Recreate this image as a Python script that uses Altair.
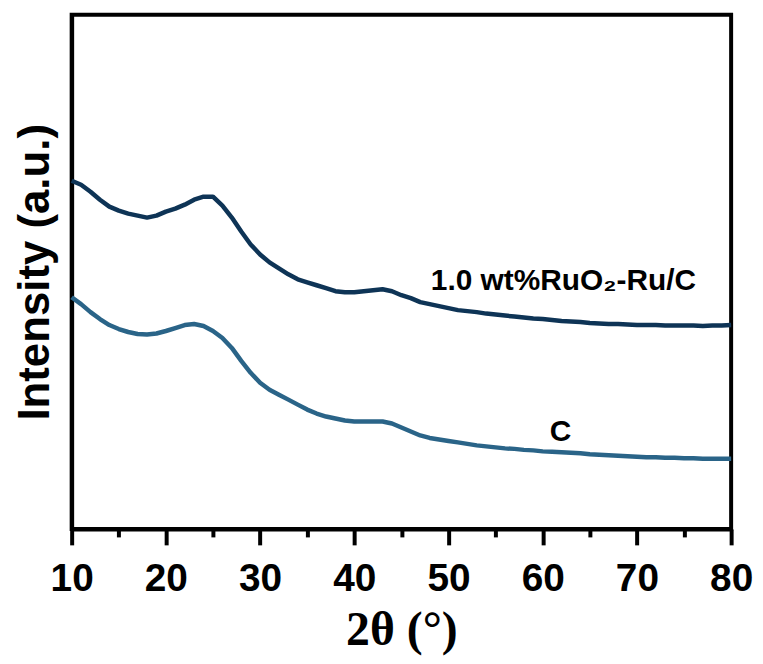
import altair as alt
import pandas as pd

# 2θ positions (degrees)
two_theta = list(range(10, 81))

# Intensity (a.u.)
ruo2_ru_c = [350, 346, 339, 331, 324, 320, 317, 315, 313, 315,
             319, 322, 326, 331, 334, 334, 325, 313, 299, 286,
             276, 268, 262, 256, 251, 248, 245, 242, 239, 238,
             238, 239, 240, 241, 239, 235, 232, 228, 226, 224,
             222, 220, 219, 218, 216.5, 215.5, 214.5, 213.5, 212.5, 211.5,
             211, 210, 209, 208.5, 208, 207, 206.5, 206, 206, 205.5,
             205, 205, 205, 204.5, 204.5, 204.5, 204.5, 204, 204.5, 204.5,
             205]
carbon = [233, 226, 218, 211, 205, 201, 198, 196, 195.5, 196.5,
          199, 202, 205, 206, 204, 199, 192, 182, 169, 157,
          147, 140, 135, 130, 125, 120, 116, 113, 111, 109,
          108, 108, 108, 108, 106, 102, 98, 94, 91.5, 90,
          88.5, 87, 85.5, 84, 83, 82, 81, 80.5, 79.5, 79,
          78, 77.5, 77, 76.5, 76, 75, 74.5, 74, 73.5, 73,
          72.5, 72, 72, 71.5, 71.5, 71, 71, 70.5, 70.5, 70.5,
          70.5]

series_names = ["1.0 wt%RuO₂-Ru/C", "C"]
series_colors = ["#0e3456", "#2a6488"]

# Label positions (data coords)
label_text = ["1.0 wt%RuO₂-Ru/C", "C"]
label_x = [62.2, 61.9]
label_y = [249, 97]

rows = []
for i, x in enumerate(two_theta):
    rows.append({"tt": x, "I": ruo2_ru_c[i], "s": series_names[0], "o": i})
    rows.append({"tt": x, "I": carbon[i], "s": series_names[1], "o": i})
df = pd.DataFrame(rows)
labels_df = pd.DataFrame({"t": label_text, "x": label_x, "y": label_y})

tick_vals = list(range(10, 81, 5))

xscale = alt.Scale(domain=[10, 80], nice=False, zero=False)
yscale = alt.Scale(domain=[0, 517], nice=False, zero=False)

lines = alt.Chart(df).mark_line(strokeWidth=4.5, strokeJoin="round").encode(
    x=alt.X("tt:Q", scale=xscale,
            axis=alt.Axis(
                title="2θ (°)",
                values=tick_vals,
                labelExpr="datum.value % 10 === 0 ? datum.label : ''",
                grid=False,
                domainColor="black", domainWidth=4,
                tickColor="black", tickWidth=4, tickSize=16,
                tickDash={"condition": {"test": "datum.value % 10 !== 0", "value": [8, 100]},
                          "value": [100, 0]},
                labelFont="Liberation Sans", labelFontWeight="bold",
                labelFontSize=39, labelColor="black", labelPadding=15,
                labelFlush=False, labelOverlap=False, labelBound=False,
                titleFont="Liberation Serif", titleFontWeight="bold",
                titleFontSize=48, titleColor="black", titlePadding=8,
            )),
    y=alt.Y("I:Q", scale=yscale,
            axis=alt.Axis(
                title="Intensity (a.u.)",
                labels=False, ticks=False, grid=False,
                domainColor="black", domainWidth=4,
                titleFont="Liberation Sans", titleFontWeight="bold",
                titleFontSize=44, titleColor="black", titlePadding=14,
            )),
    color=alt.Color("s:N", scale=alt.Scale(domain=series_names, range=series_colors), legend=None),
    order="o:Q",
)

texts = alt.Chart(labels_df).mark_text(
    font="Liberation Sans", fontWeight="bold", fontSize=30, color="black",
    align="center", baseline="middle",
).encode(
    x=alt.X("x:Q", scale=xscale),
    y=alt.Y("y:Q", scale=yscale),
    text="t:N",
)

chart = alt.layer(lines, texts).properties(
    width=663, height=517,
    autosize=alt.AutoSizeParams(type="none"),
    padding={"left": 64, "top": 5, "right": 24, "bottom": 126},
    background="white",
).configure_view(stroke="black", strokeWidth=4)

chart.save("out.html", embed_options={"renderer": "svg", "actions": False})
